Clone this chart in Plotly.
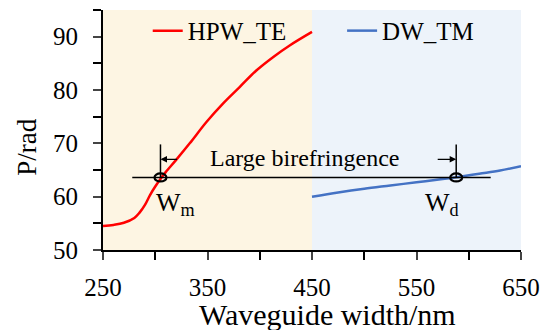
import plotly.graph_objects as go

# ---------------- data ----------------
te_width = [250, 260, 270, 280, 285, 290, 295, 300, 306, 310, 320, 333, 349, 365, 381, 397, 413, 429, 450]
te_phase = [54.5, 54.7, 55.1, 56.0, 57.0, 58.4, 60.3, 61.9, 63.6, 64.6, 66.9, 70.0, 74.0, 77.5, 80.6, 83.7, 86.2, 88.4, 90.9]

tm_width = [450, 475, 500, 525, 550, 575, 590, 610, 630, 650]
tm_phase = [60.0, 60.8, 61.5, 62.1, 62.7, 63.3, 63.7, 64.3, 64.9, 65.7]

region_te = [250, 450]
region_tm = [450, 650]

w_m = 305
w_d = 588
p_cross = 63.6
cross_line_x = [278, 621]
marker_top = 69.8
arrow_y = 67.0
label_text = "Large birefringence"
label_pos = [443, 67.3]

x_title = "Waveguide width/nm"
y_title = "P/rad"
x_range = [250, 650]
y_range = [50, 95]

FONT = "Liberation Serif"

fig = go.Figure()

fig.add_trace(go.Scatter(x=te_width, y=te_phase, mode="lines", name="HPW_TE",
                         line=dict(color="#FF0000", width=2.5, shape="spline"), legend="legend"))
fig.add_trace(go.Scatter(x=tm_width, y=tm_phase, mode="lines", name="DW_TM",
                         line=dict(color="#4472C4", width=2.5, shape="spline"), legend="legend2"))

# horizontal reference line
fig.add_trace(go.Scatter(x=cross_line_x, y=[p_cross, p_cross], mode="lines", showlegend=False,
                         line=dict(color="black", width=1.5), hoverinfo="skip"))
# vertical markers
for w in (w_m, w_d):
    fig.add_trace(go.Scatter(x=[w, w], y=[p_cross, marker_top], mode="lines", showlegend=False,
                             line=dict(color="black", width=1.5), hoverinfo="skip"))

shapes = [
    dict(type="rect", xref="x", yref="y", x0=region_te[0], x1=region_te[1], y0=y_range[0], y1=y_range[1],
         fillcolor="#FDF5E3", line=dict(width=0), layer="below"),
    dict(type="rect", xref="x", yref="y", x0=region_tm[0], x1=region_tm[1], y0=y_range[0], y1=y_range[1],
         fillcolor="#EDF3FA", line=dict(width=0), layer="below"),
]
for w in (w_m, w_d):
    shapes.append(dict(type="circle", xref="x", yref="y", xsizemode="pixel", ysizemode="pixel",
                       xanchor=w, yanchor=p_cross, x0=-6, x1=6, y0=-4, y1=4,
                       line=dict(color="black", width=2.2), fillcolor="rgba(0,0,0,0)", layer="above"))

annotations = [
    dict(x=label_pos[0], y=label_pos[1], xref="x", yref="y", text=label_text, showarrow=False,
         font=dict(family=FONT, size=24, color="black")),
    dict(x=w_m, y=arrow_y, xref="x", yref="y", ax=18, ay=0, text="", showarrow=True,
         arrowhead=2, arrowsize=1, arrowwidth=1.3, arrowcolor="black"),
    dict(x=w_d, y=arrow_y, xref="x", yref="y", ax=-20, ay=0, text="", showarrow=True,
         arrowhead=2, arrowsize=1, arrowwidth=1.3, arrowcolor="black"),
    dict(x=w_m, y=p_cross, xref="x", yref="y", text="W<sub>m</sub>", showarrow=False,
         xanchor="left", yanchor="top", xshift=-6, yshift=-9, font=dict(family=FONT, size=26, color="black")),
    dict(x=w_d, y=p_cross, xref="x", yref="y", text="W<sub>d</sub>", showarrow=False,
         xanchor="left", yanchor="top", xshift=-33, yshift=-9, font=dict(family=FONT, size=26, color="black")),
    dict(x=-0.182, y=0.43, xref="paper", yref="paper", text=y_title, showarrow=False, textangle=-90,
         xanchor="center", yanchor="middle", font=dict(family=FONT, size=27, color="black")),
    dict(x=0.537, y=-0.268, xref="paper", yref="paper", text=x_title, showarrow=False,
         xanchor="center", yanchor="middle", font=dict(family=FONT, size=30, color="black")),
]

fig.update_layout(
    width=551, height=330,
    margin=dict(l=103, r=30, t=10, b=80, autoexpand=False),
    paper_bgcolor="white", plot_bgcolor="white",
    font=dict(family=FONT, size=25, color="black"),
    shapes=shapes, annotations=annotations,
    legend=dict(x=0.107, y=0.913, xanchor="left", yanchor="middle", bgcolor="rgba(0,0,0,0)",
                font=dict(family=FONT, size=25), borderwidth=0),
    legend2=dict(x=0.572, y=0.913, xanchor="left", yanchor="middle", bgcolor="rgba(0,0,0,0)",
                 font=dict(family=FONT, size=25), borderwidth=0),
)
fig.update_xaxes(range=x_range, tick0=250, dtick=100, ticks="outside", ticklen=8, tickwidth=1.5,
                 showline=True, linecolor="black", linewidth=2, showgrid=False, zeroline=False,
                 minor=dict(dtick=50, ticks="outside", ticklen=8, tickwidth=1.5, tickcolor="black"),
                 ticklabelstandoff=6, automargin=False)
fig.update_yaxes(range=y_range, tick0=50, dtick=10, ticks="outside", ticklen=8, tickwidth=1.5,
                 showline=True, linecolor="black", linewidth=2, showgrid=False, zeroline=False,
                 minor=dict(dtick=5, ticks="outside", ticklen=8, tickwidth=1.5, tickcolor="black"),
                 ticklabelstandoff=10, automargin=False)

fig.write_html("out.html", config={"displayModeBar": False},
               post_script="document.body.style.margin='0';")
